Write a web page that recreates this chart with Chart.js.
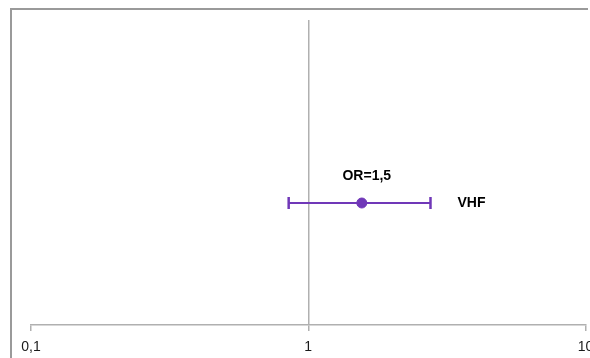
<!DOCTYPE html>
<html>
<head>
<meta charset="utf-8">
<script src="https://cdn.jsdelivr.net/npm/chart.js@4"></script>
<style>
  html, body { margin: 0; padding: 0; background: #fff; overflow: hidden; width: 590px; }
</style>
</head>
<body>
<canvas id="myChart" width="594" height="358"></canvas>
<script>
const categories = ['VHF']
const oddsRatios = [1.56]
const lowerCI = [0.85]
const upperCI = [2.76]
const rowY = [0.4]
const orLabels = ['OR=1,5']
const tickValues = [0.1, 1, 10]
const tickLabels = ['0,1', '1', '10']

const purple = '#7038b8'

// frame (left + top edge visible) and text labels next to the estimate
const extras = {
  id: 'extras',
  beforeDraw(chart) {
    const c = chart.ctx
    c.save()
    c.strokeStyle = '#9a9a9a'
    c.lineWidth = 2
    c.beginPath()
    c.moveTo(11, 358)
    c.lineTo(11, 9)
    c.lineTo(588, 9)
    c.stroke()
    c.restore()
  },
  afterDatasetsDraw(chart) {
    const c = chart.ctx
    const x = chart.scales.x
    const y = chart.scales.y
    c.save()
    c.fillStyle = '#000'
    c.font = 'bold 14px "Liberation Sans", Arial, sans-serif'
    c.textBaseline = 'middle'
    for (let i = 0; i < categories.length; i++) {
      const py = y.getPixelForValue(rowY[i])
      c.textAlign = 'center'
      c.fillText(orLabels[i], x.getPixelForValue(oddsRatios[i]) + 5, py - 27)
      c.textAlign = 'left'
      c.fillText(categories[i], x.getPixelForValue(upperCI[i]) + 27, py)
    }
    c.restore()
  }
}

const ctx = document.getElementById('myChart')

new Chart(ctx, {
  type: 'scatter',
  data: {
    datasets: [
      {
        type: 'line',
        label: 'CI',
        data: [{x: lowerCI[0], y: rowY[0]}, {x: upperCI[0], y: rowY[0]}],
        borderColor: purple,
        borderWidth: 2,
        pointStyle: 'line',
        rotation: 90,
        pointRadius: 6,
        pointBorderWidth: 2.5,
        pointBorderColor: purple,
        showLine: true
      },
      {
        label: 'OR',
        data: [{x: oddsRatios[0], y: rowY[0]}],
        backgroundColor: purple,
        borderColor: purple,
        pointRadius: 5
      }
    ]
  },
  options: {
    animation: false,
    responsive: false,
    layout: { padding: { top: 20, left: 31, right: 0, bottom: 0 } },
    plugins: { legend: { display: false }, tooltip: { enabled: false } },
    scales: {
      x: {
        type: 'logarithmic',
        min: 0.1,
        max: 10,
        afterBuildTicks: (axis) => { axis.ticks = tickValues.map(v => ({ value: v })) },
        afterFit: (axis) => {
          axis.height = 33
          axis.paddingLeft = 0
          axis.paddingRight = 0
        },
        border: { display: true, color: '#b0b0b0', width: 1.5 },
        grid: {
          color: (c) => c.tick && c.tick.value === 1 ? '#b0b0b0' : 'rgba(0,0,0,0)',
          tickColor: '#b0b0b0',
          lineWidth: 1.5,
          tickLength: 6,
          drawTicks: true
        },
        ticks: {
          autoSkip: false,
          maxRotation: 0,
          padding: 8,
          color: '#1a1a1a',
          font: { family: '"Liberation Sans", Arial, sans-serif', size: 14 },
          callback: (v) => {
            const i = tickValues.indexOf(v)
            return i >= 0 ? tickLabels[i] : ''
          }
        }
      },
      y: {
        display: false,
        min: 0,
        max: 1
      }
    }
  },
  plugins: [extras]
})
</script>
</body>
</html>
